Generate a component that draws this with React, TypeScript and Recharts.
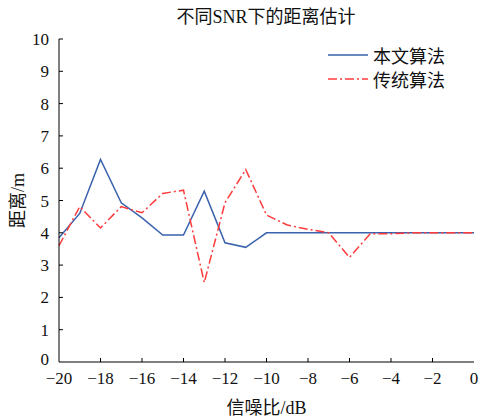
import React from 'react';
import { LineChart, Line, XAxis, YAxis, Label } from 'recharts';

const snr = [-20, -19, -18, -17, -16, -15, -14, -13, -12, -11, -10, -9, -8, -7, -6, -5, -4, -3, -2, -1, 0];
const proposed = [3.85, 4.6, 6.27, 4.93, 4.46, 3.93, 3.93, 5.29, 3.69, 3.55, 4.0, 4.0, 4.0, 4.0, 4.0, 4.0, 4.0, 4.0, 4.0, 4.0, 4.0];
const traditional = [3.6, 4.81, 4.15, 4.81, 4.62, 5.22, 5.32, 2.46, 4.93, 5.96, 4.55, 4.24, 4.11, 4.0, 3.24, 3.97, 3.97, 4.0, 4.0, 4.0, 4.0];
const xTicks = [-20, -18, -16, -14, -12, -10, -8, -6, -4, -2, 0];
const yTicks = [0, 1, 2, 3, 4, 5, 6, 7, 8, 9, 10];
const seriesNames = ['本文算法', '传统算法'];
const title = '不同SNR下的距离估计';
const xLabel = '信噪比/dB';
const yLabel = '距离/m';

const data = snr.map((s, i) => ({ snr: s, a: proposed[i], b: traditional[i] }));

const FONT = "'Liberation Serif', 'Noto Sans CJK SC', serif";
const BLUE = '#3a62ad';
const RED = '#ff3b3b';
const DASH = '9 3 2 3';

const fmt = (v: number) => String(v).replace('-', '\u2212');

const XTick = (props: any) => {
  const { x, y, payload } = props;
  const v = payload.value;
  return (
    <g>
      {v !== -20 && v !== 0 && <line x1={x} x2={x} y1={y} y2={y - 4} stroke="#000" strokeWidth={1} />}
      <text x={x} y={y + 22} textAnchor="middle" fontSize={17} fontFamily={FONT} fill="#111">{fmt(v)}</text>
    </g>
  );
};

const YTick = (props: any) => {
  const { x, y, payload } = props;
  const v = payload.value;
  const lift = v === 0 ? 3 : 0;
  return (
    <g>
      {v !== 0 && <line x1={x} x2={x + 4} y1={y} y2={y} stroke="#000" strokeWidth={1} />}
      <text x={x - 10} y={y + 6 - lift} textAnchor="end" fontSize={17} fontFamily={FONT} fill="#111">{v}</text>
    </g>
  );
};

const LegendBox = () => (
  <div style={{ position: 'absolute', left: 326, top: 43, fontFamily: FONT, fontSize: 18, color: '#111' }}>
    {[0, 1].map((i) => (
      <div key={i} style={{ display: 'flex', alignItems: 'center', height: 24 }}>
        <svg width={44} height={10} style={{ marginRight: 3 }}>
          <line x1={2} x2={42} y1={5} y2={5} stroke={i === 0 ? BLUE : RED} strokeWidth={1.5} strokeDasharray={i === 0 ? undefined : DASH} />
        </svg>
        <span>{seriesNames[i]}</span>
      </div>
    ))}
  </div>
);

export default function App() {
  return (
    <div style={{ position: 'absolute', left: 0, top: 0, width: 480, height: 418, background: '#fff' }}>
      <LineChart width={480} height={418} data={data} margin={{ top: 39, right: 6, bottom: 0, left: 0 }}>
        <XAxis
          dataKey="snr"
          type="number"
          domain={[-20, 0]}
          ticks={xTicks}
          interval={0}
          height={56}
          tickSize={0}
          tickMargin={0}
          tick={<XTick />}
          axisLine={{ stroke: '#000', strokeWidth: 1 }}
        >
          <Label
            content={(p: any) => {
              const vb = p.viewBox;
              return (
                <text x={vb.x + vb.width / 2} y={vb.y + 52} textAnchor="middle" fontSize={18} fontFamily={FONT} fill="#111">{xLabel}</text>
              );
            }}
          />
        </XAxis>
        <YAxis
          type="number"
          domain={[0, 10]}
          ticks={yTicks}
          interval={0}
          width={59}
          tickSize={0}
          tickMargin={0}
          tick={<YTick />}
          axisLine={{ stroke: '#000', strokeWidth: 1 }}
        >
          <Label
            content={(p: any) => {
              const vb = p.viewBox;
              const cx = vb.x + 18;
              const cy = vb.y + vb.height / 2;
              return (
                <text x={cx} y={cy} transform={`rotate(-90 ${cx} ${cy})`} textAnchor="middle" dominantBaseline="central" fontSize={18} fontFamily={FONT} fill="#111">{yLabel}</text>
              );
            }}
          />
        </YAxis>
        <Line dataKey="a" name={seriesNames[0]} stroke={BLUE} strokeWidth={1.5} dot={false} isAnimationActive={false} />
        <Line dataKey="b" name={seriesNames[1]} stroke={RED} strokeWidth={1.5} strokeDasharray={DASH} dot={false} isAnimationActive={false} />
      </LineChart>
      <div style={{ position: 'absolute', left: 0, width: 532, top: 5, textAlign: 'center', fontFamily: FONT, fontSize: 18, color: '#111', lineHeight: '24px' }}>{title}</div>
      <LegendBox />
    </div>
  );
}
